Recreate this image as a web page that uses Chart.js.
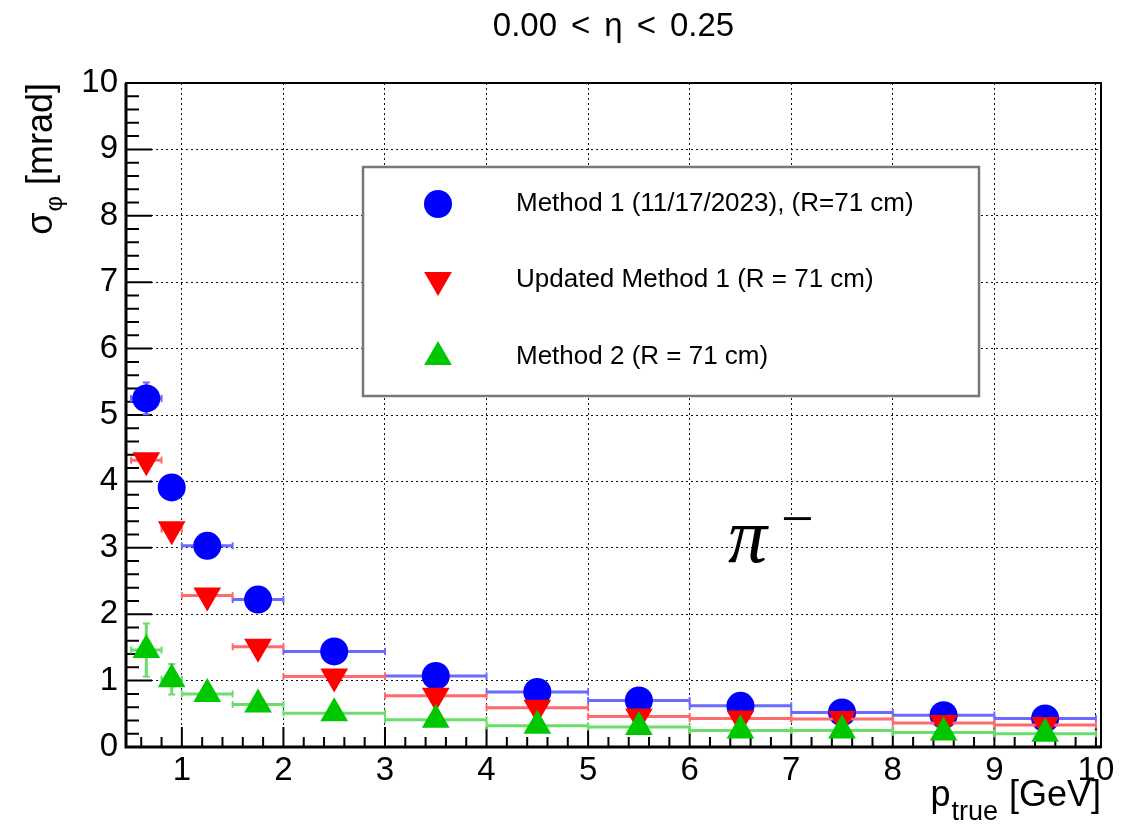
<!DOCTYPE html>
<html>
<head>
<meta charset="utf-8">
<script src="https://cdn.jsdelivr.net/npm/chart.js@4.4.1/dist/chart.umd.min.js"></script>
<style>
html, body { margin: 0; padding: 0; background: #fff; }
#wrap { width: 1137px; height: 827px; }
</style>
</head>
<body>
<div id="wrap"><canvas id="myChart" width="1137" height="827"></canvas></div>
<script>
// bins in p_true [GeV]
const binLow = [0.5, 0.8, 1.0, 1.5, 2, 3, 4, 5, 6, 7, 8, 9]
const binHigh = [0.8, 1.0, 1.5, 2.0, 3, 4, 5, 6, 7, 8, 9, 10]
const binCenter = [0.65, 0.9, 1.25, 1.75, 2.5, 3.5, 4.5, 5.5, 6.5, 7.5, 8.5, 9.5]

// sigma_phi [mrad]
const method1 = [5.25, 3.91, 3.03, 2.22, 1.44, 1.07, 0.83, 0.70, 0.62, 0.52, 0.48, 0.43]
const method1Err = [0.24, 0.10, 0.08, 0.06, 0.05, 0.04, 0.03, 0.03, 0.02, 0.02, 0.02, 0.02]
const updated = [4.32, 3.28, 2.28, 1.51, 1.06, 0.77, 0.59, 0.46, 0.43, 0.42, 0.36, 0.33]
const updatedErr = [0.08, 0.06, 0.05, 0.04, 0.03, 0.03, 0.02, 0.02, 0.02, 0.02, 0.02, 0.02]
const method2 = [1.46, 1.02, 0.80, 0.64, 0.51, 0.41, 0.32, 0.30, 0.25, 0.25, 0.22, 0.20]
const method2Err = [0.40, 0.23, 0.08, 0.06, 0.05, 0.04, 0.03, 0.03, 0.02, 0.02, 0.02, 0.02]

const seriesNames = ['Method 1 (11/17/2023), (R=71 cm)', 'Updated Method 1 (R = 71 cm)', 'Method 2 (R = 71 cm)']
const xTicks = [1, 2, 3, 4, 5, 6, 7, 8, 9, 10]
const yTicks = [0, 1, 2, 3, 4, 5, 6, 7, 8, 9, 10]

const FONT = '"Liberation Sans", Arial, Helvetica, sans-serif'

function markerPoints(values) {
    return values.map((v, i) => ({x: binCenter[i], y: v}))
}

function hBarPoints(values) {
    let pts = []
    for (let i = 0; i < values.length; i++) {
        pts.push({x: binLow[i], y: values[i]}, {x: binHigh[i], y: values[i]}, {x: binHigh[i], y: null})
    }
    return pts
}

function vBarPoints(values, errs) {
    let pts = []
    for (let i = 0; i < values.length; i++) {
        pts.push({x: binCenter[i], y: values[i] - errs[i]}, {x: binCenter[i], y: values[i] + errs[i]}, {x: binCenter[i], y: null})
    }
    return pts
}

function barSet(data, color, capRotation, order) {
    return {
        data: data,
        showLine: true,
        spanGaps: false,
        borderColor: color,
        borderWidth: 3,
        pointStyle: 'line',
        pointRotation: capRotation,
        pointRadius: 3.5,
        pointBorderWidth: 2,
        pointBorderColor: color,
        order: order,
        clip: false
    }
}

function markerSet(data, color, style, rotation, radius, order) {
    return {
        data: data,
        showLine: false,
        pointStyle: style,
        pointRotation: rotation,
        pointRadius: radius,
        pointBackgroundColor: color,
        pointBorderWidth: 0,
        order: order,
        clip: false
    }
}

const blue = '#0000ff', red = '#ff0000', green = '#00c800'
const blueBar = '#6a6aff', redBar = '#ff6a6a', greenBar = '#6ade6a'

const legendItems = [
    {style: 'circle', rotation: 0, radius: 14, color: blue},
    {style: 'triangle', rotation: 180, radius: 16, color: red},
    {style: 'triangle', rotation: 0, radius: 16, color: green}
]

const rootFrame = {
    id: 'rootFrame',
    beforeDatasetsDraw(chart) {
        const ctx = chart.ctx
        const a = chart.chartArea
        const xs = chart.scales.x, ys = chart.scales.y
        ctx.save()
        ctx.strokeStyle = '#000'
        ctx.lineWidth = 2
        ctx.beginPath()
        for (let k = 0; k <= 50; k++) {
            const py = ys.getPixelForValue(k / 5)
            const len = k % 5 === 0 ? 26 : 13
            ctx.moveTo(a.left, py)
            ctx.lineTo(a.left + len, py)
        }
        for (let k = 3; k <= 50; k++) {
            const px = xs.getPixelForValue(k / 5)
            const len = k % 5 === 0 ? 20 : 10
            ctx.moveTo(px, a.bottom)
            ctx.lineTo(px, a.bottom - len)
        }
        ctx.stroke()
        ctx.lineWidth = 2
        ctx.strokeRect(a.left, a.top, a.right - a.left, a.bottom - a.top)
        ctx.lineWidth = 3
        ctx.beginPath()
        ctx.moveTo(a.left, a.top)
        ctx.lineTo(a.left, a.bottom)
        ctx.lineTo(a.right, a.bottom)
        ctx.stroke()
        ctx.restore()
    },
    afterDraw(chart) {
        const ctx = chart.ctx
        const a = chart.chartArea
        ctx.save()
        ctx.fillStyle = '#000'
        ctx.textBaseline = 'alphabetic'
        ctx.textAlign = 'left'

        // title
        const parts = ['0.00', '<', 'η', '<', '0.25']
        const gap = 14
        ctx.font = '33px ' + FONT
        let total = gap * (parts.length - 1)
        parts.forEach(p => total += ctx.measureText(p).width)
        let tx = (a.left + a.right) / 2 - total / 2
        parts.forEach(p => {
            ctx.fillText(p, tx, 36)
            tx += ctx.measureText(p).width + gap
        })

        // x axis title, right aligned to frame
        const mainFont = '36px ' + FONT, subFont = '27px ' + FONT
        ctx.font = mainFont
        const wP = ctx.measureText('p').width
        const wG = ctx.measureText(' [GeV]').width
        ctx.font = subFont
        const wT = ctx.measureText('true').width
        let xx = a.right - (wP + wT + wG + 2)
        ctx.font = mainFont
        ctx.fillText('p', xx, 806)
        ctx.font = subFont
        ctx.fillText('true', xx + wP + 1, 820)
        ctx.font = mainFont
        ctx.fillText(' [GeV]', xx + wP + wT + 2, 806)

        // y axis title, rotated, ending at frame top
        ctx.save()
        ctx.translate(52, a.top)
        ctx.rotate(-Math.PI / 2)
        ctx.font = mainFont
        const wS = ctx.measureText('σ').width
        const wM = ctx.measureText(' [mrad]').width
        ctx.font = '24px ' + FONT
        const wF = ctx.measureText('φ').width
        let yx = -(wS + wF + wM + 2)
        ctx.font = mainFont
        ctx.fillText('σ', yx, 0)
        ctx.font = '24px ' + FONT
        ctx.fillText('φ', yx + wS + 1, 10)
        ctx.font = mainFont
        ctx.fillText(' [mrad]', yx + wS + wF + 2, 0)
        ctx.restore()

        // pi minus label
        ctx.font = 'italic 78px "Liberation Serif", "Times New Roman", serif'
        ctx.fillText('π', 728, 562)
        ctx.font = '58px "Liberation Serif", "Times New Roman", serif'
        ctx.fillText('−', 781, 538)

        // legend box
        ctx.fillStyle = '#fff'
        ctx.fillRect(363, 167, 616, 229)
        ctx.strokeStyle = '#777'
        ctx.lineWidth = 2.5
        ctx.strokeRect(363, 167, 616, 229)
        const rows = [204, 280, 357]
        legendItems.forEach((it, i) => {
            ctx.fillStyle = it.color
            Chart.helpers.drawPoint(ctx, {pointStyle: it.style, rotation: it.rotation, radius: it.radius, borderWidth: 0}, 438, rows[i])
            ctx.fillStyle = '#000'
            ctx.font = '26px ' + FONT
            ctx.textBaseline = 'middle'
            ctx.fillText(seriesNames[i], 516, rows[i])
        })
        ctx.restore()
    }
}

const chart = document.getElementById('myChart')

new Chart(chart, {
    type: 'scatter',
    data: {
        datasets: [
            barSet(hBarPoints(method1), blueBar, 90, 12),
            barSet(vBarPoints(method1, method1Err), blueBar, 0, 11),
            markerSet(markerPoints(method1), blue, 'circle', 0, 14, 10),
            barSet(hBarPoints(updated), redBar, 90, 9),
            barSet(vBarPoints(updated, updatedErr), redBar, 0, 8),
            markerSet(markerPoints(updated), red, 'triangle', 180, 16, 7),
            barSet(hBarPoints(method2), greenBar, 90, 6),
            barSet(vBarPoints(method2, method2Err), greenBar, 0, 5),
            markerSet(markerPoints(method2), green, 'triangle', 0, 16, 4)
        ]
    },
    options: {
        responsive: false,
        animation: false,
        events: [],
        layout: {
            padding: {left: 0, right: 36, top: 83, bottom: 0}
        },
        plugins: {
            legend: {display: false},
            tooltip: {enabled: false},
            title: {display: false}
        },
        scales: {
            x: {
                type: 'linear',
                min: 0.45,
                max: 10.05,
                afterBuildTicks: scale => { scale.ticks = xTicks.map(v => ({value: v})) },
                afterFit: scale => { scale.height = 80 },
                grid: {
                    color: '#111',
                    lineWidth: 1,
                    drawTicks: false
                },
                border: {display: false, dash: [2, 3]},
                ticks: {
                    color: '#000',
                    padding: 4,
                    maxRotation: 0,
                    autoSkip: false,
                    font: {family: FONT, size: 33}
                }
            },
            y: {
                type: 'linear',
                min: 0,
                max: 10,
                afterBuildTicks: scale => { scale.ticks = yTicks.map(v => ({value: v})) },
                afterFit: scale => { scale.width = 126 },
                grid: {
                    color: '#111',
                    lineWidth: 1,
                    drawTicks: false
                },
                border: {display: false, dash: [2, 3]},
                ticks: {
                    color: '#000',
                    padding: 8,
                    autoSkip: false,
                    font: {family: FONT, size: 33}
                }
            }
        }
    },
    plugins: [rootFrame]
})
</script>
</body>
</html>
